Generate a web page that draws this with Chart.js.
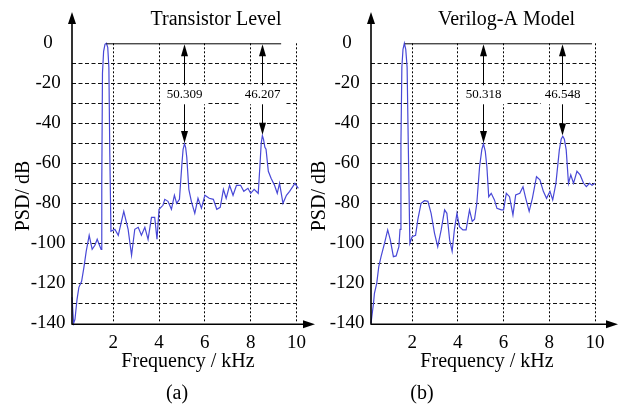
<!DOCTYPE html>
<html>
<head>
<meta charset="utf-8">
<script src="https://cdn.jsdelivr.net/npm/chart.js@4.4.0/dist/chart.umd.min.js"></script>
<style>
  body { margin: 0; background: #fff; }
  #wrap { position: relative; width: 620px; height: 404px; overflow: hidden; }
  canvas { position: absolute; top: 0; }
</style>
</head>
<body>
<div id="wrap">
  <canvas id="chartA" width="320" height="404" style="left:0px"></canvas>
  <canvas id="chartB" width="310" height="404" style="left:310px"></canvas>
</div>
<script>
/*
    Data (frequency in kHz, PSD in dB).
*/
const xTicks = [2, 4, 6, 8, 10];
const yTicks = [-140, -130, -120, -110, -100, -90, -80, -70, -60, -50, -40, -30, -20, -10, 0];

// (a) Transistor Level
const freqA = [0.2, 0.27, 0.33, 0.42, 0.5, 0.62, 0.72, 0.82, 0.95, 1.08, 1.2, 1.3, 1.4, 1.47,
    1.5, 1.53, 1.58, 1.64, 1.7, 1.76, 1.81, 1.85, 1.9,
    2.07, 2.22, 2.46, 2.65, 2.8, 2.94, 3.09, 3.23, 3.38, 3.52, 3.67, 3.81, 3.91, 4.0,
    4.17, 4.25, 4.39, 4.54, 4.67, 4.77, 4.89, 5.0, 5.05, 5.11, 5.16, 5.21, 5.3, 5.41,
    5.56, 5.7, 5.85, 6.0, 6.19, 6.37, 6.52, 6.67, 6.81, 6.93, 7.08, 7.23, 7.38, 7.56,
    7.7, 7.88, 8.0, 8.15, 8.33, 8.41, 8.46, 8.51, 8.56, 8.62, 8.67, 8.77, 8.89, 9.04,
    9.16, 9.26, 9.41, 9.56, 9.7, 9.93, 10.08];
const psdA = [-127, -140, -138, -128, -122, -119, -112, -104, -96, -103, -101, -98, -101, -103,
    -70, -15, -4, -0.5, 0, -2, -12, -55, -94,
    -93, -96, -84, -93, -106, -93, -92, -96, -92, -98, -87, -87, -98, -83,
    -81, -78, -79, -83, -76, -80, -78, -60, -53, -50.3, -52, -57, -73, -79,
    -85, -77.5, -82.5, -76, -77.5, -78, -83, -82, -73, -77.5, -71, -76, -71, -71,
    -74, -72.5, -75, -73, -75, -60, -50, -46.2, -48, -52, -53, -64, -67.5, -71,
    -75, -70, -80, -76, -74, -70, -72.5];
const peakFreqA = [5.11, 8.51];
const peakPsdA = [-50.309, -46.207];
const peakLabelA = ['50.309', '46.207'];

// (b) Verilog-A Model
const freqB = [0.2, 0.31, 0.35, 0.45, 0.54, 0.64, 0.79, 0.93, 1.04, 1.18, 1.3, 1.42, 1.47,
    1.51, 1.55, 1.6, 1.66, 1.72, 1.78, 1.83, 1.9,
    2.0, 2.15, 2.25, 2.39, 2.54, 2.69, 2.83, 2.98, 3.12, 3.27, 3.42, 3.52, 3.64, 3.75,
    3.85, 3.96, 4.07, 4.22, 4.36, 4.51, 4.63, 4.73, 4.83, 4.95, 5.05, 5.12, 5.2, 5.27,
    5.35, 5.46, 5.6, 5.71, 5.9, 6.0, 6.12, 6.26, 6.41, 6.53, 6.71, 6.85, 6.97, 7.12,
    7.26, 7.44, 7.59, 7.74, 7.88, 8.03, 8.15, 8.29, 8.44, 8.52, 8.59, 8.66, 8.74, 8.84,
    8.94, 9.06, 9.21, 9.35, 9.5, 9.62, 9.76, 9.87, 10.0, 10.2];
const psdB = [-140, -130, -125, -120, -111.7, -106.7, -100, -93.3, -98, -106.7, -106.3, -101.7, -93,
    -50, -12, -3, 0, -3, -12, -50, -100,
    -96.7, -96, -88, -80, -78.7, -79, -85, -95, -101.7, -93.3, -83.3, -85, -98.3, -104,
    -93, -85, -91.7, -93.3, -93.3, -83.3, -89, -88, -80, -61.7, -53, -50.3, -54, -61.7,
    -76.7, -75, -78.3, -82.5, -83.3, -83.3, -75, -76.7, -85.8, -75.8, -75, -71.7, -77.5, -84,
    -77.5, -66.7, -68.3, -74, -77.5, -74, -78.3, -70, -53.3, -48, -46.5, -48, -53.3, -70,
    -65.8, -70, -64, -65.8, -70, -71.7, -70, -71, -70, -70.3];
const peakFreqB = [5.12, 8.57];
const peakPsdB = [-50.318, -46.548];
const peakLabelB = ['50.318', '46.548'];

const SERIF = "'Liberation Serif', 'Times New Roman', serif";

/*
    Draw a small filled arrow head with its tip at (x, y).
*/
function arrowHead(ctx, x, y, dir, len, half) {
    ctx.beginPath();
    ctx.moveTo(x, y);
    if (dir === 'up') {
        ctx.lineTo(x - half, y + len);
        ctx.lineTo(x + half, y + len);
    } else if (dir === 'down') {
        ctx.lineTo(x - half, y - len);
        ctx.lineTo(x + half, y - len);
    } else {
        ctx.lineTo(x - len, y - half);
        ctx.lineTo(x - len, y + half);
    }
    ctx.closePath();
    ctx.fill();
}

/*
    Plugin that draws the axes with arrows, the 0 dB reference line, the peak
    distance arrows and all the free text of one panel.
*/
function decorPlugin(cfg) {
    return {
        id: 'decor',
        afterDraw(chart) {
            const ctx = chart.ctx;
            const xs = chart.scales.x;
            const ys = chart.scales.y;
            const area = chart.chartArea;
            const y0 = ys.getPixelForValue(0);
            ctx.save();
            ctx.fillStyle = '#000';
            ctx.strokeStyle = '#000';

            // 0 dB reference line
            ctx.lineWidth = 1;
            ctx.beginPath();
            ctx.moveTo(xs.getPixelForValue(cfg.refStart), y0 + 0.5);
            ctx.lineTo(xs.getPixelForValue(cfg.refEnd), y0 + 0.5);
            ctx.stroke();

            // peak arrows with labels
            ctx.font = '13px ' + SERIF;
            ctx.textAlign = 'center';
            ctx.textBaseline = 'middle';
            const yLab = ys.getPixelForValue(-25.5);
            for (let i = 0; i < cfg.peakFreq.length; i++) {
                const px = Math.round(xs.getPixelForValue(cfg.peakFreq[i])) + 0.5;
                const py = ys.getPixelForValue(cfg.peakPsd[i]) - 1;
                const w = ctx.measureText(cfg.peakLabel[i]).width + 8;
                ctx.fillStyle = '#fff';
                ctx.fillRect(px - w / 2, yLab - 10, w, 20);
                ctx.fillStyle = '#000';
                ctx.beginPath();
                ctx.moveTo(px, y0 + 10);
                ctx.lineTo(px, yLab - 9);
                ctx.moveTo(px, yLab + 10);
                ctx.lineTo(px, py - 10);
                ctx.stroke();
                arrowHead(ctx, px, y0 + 1, 'up', 12, 3.5);
                arrowHead(ctx, px, py, 'down', 12, 3.5);
                ctx.fillText(cfg.peakLabel[i], px, yLab);
            }

            // axes with arrows
            ctx.lineWidth = 1.6;
            ctx.beginPath();
            ctx.moveTo(area.left, area.bottom + 1.5);
            ctx.lineTo(area.left, 20);
            ctx.moveTo(area.left, area.bottom + 1);
            ctx.lineTo(cfg.xArrowTip - 8, area.bottom + 1);
            ctx.stroke();
            arrowHead(ctx, area.left, 12, 'up', 12, 4);
            arrowHead(ctx, cfg.xArrowTip, area.bottom + 1, 'right', 12, 4);

            // texts
            ctx.textBaseline = 'alphabetic';
            ctx.font = '20px ' + SERIF;
            ctx.fillText(cfg.title, cfg.titleX, 25);
            ctx.fillText('Frequency / kHz', cfg.xLabelX, 367);
            ctx.fillText(cfg.sub, cfg.subX, 399);
            ctx.save();
            ctx.translate(cfg.yLabelX, 196);
            ctx.rotate(-Math.PI / 2);
            ctx.textBaseline = 'middle';
            ctx.fillText('PSD/ dB', 0, 0);
            ctx.restore();
            ctx.restore();
        }
    };
}

/*
    Common method that builds one PSD panel.
*/
function displayPanel(canvasId, freq, psd, yAxisWidth, padRight, cfg) {
    const points = freq.map((f, i) => ({ x: f, y: psd[i] }));
    const ctx = document.getElementById(canvasId).getContext('2d');
    return new Chart(ctx, {
        type: 'line',
        data: {
            datasets: [{
                data: points,
                borderColor: 'rgb(72, 72, 215)',
                borderWidth: 1.2,
                pointRadius: 0,
                fill: false,
                tension: 0,
                clip: false
            }]
        },
        options: {
            responsive: false,
            animation: false,
            layout: { padding: { left: 0, top: 43.3, right: padRight, bottom: 0 } },
            plugins: { legend: { display: false }, tooltip: { enabled: false } },
            scales: {
                x: {
                    type: 'linear',
                    min: 0.2,
                    max: 10,
                    afterBuildTicks: (axis) => { axis.ticks = xTicks.map(v => ({ value: v })); },
                    afterFit: (scale) => { scale.height = 404 - 323.3; },
                    ticks: {
                        color: '#000',
                        font: { family: SERIF, size: 19 },
                        padding: 8,
                        maxRotation: 0,
                        autoSkip: false
                    },
                    grid: { color: '#000', lineWidth: 1, drawTicks: false },
                    border: { display: false, dash: [2, 2] }
                },
                y: {
                    min: -140,
                    max: 0,
                    afterBuildTicks: (axis) => { axis.ticks = yTicks.map(v => ({ value: v })); },
                    afterFit: (scale) => { scale.width = yAxisWidth; },
                    ticks: {
                        color: '#000',
                        font: { family: SERIF, size: 19 },
                        padding: 6.5,
                        crossAlign: 'center',
                        autoSkip: false,
                        callback: (v) => (v % 20 === 0 ? String(v) : '')
                    },
                    grid: {
                        lineWidth: 1,
                        drawTicks: false,
                        color: (c) => (c.tick && (c.tick.value === 0 || c.tick.value === -140) ? 'rgba(0,0,0,0)' : '#111')
                    },
                    border: { display: false, dash: [4, 2.5] }
                }
            }
        },
        plugins: [decorPlugin(cfg)]
    });
}

displayPanel('chartA', freqA, psdA, 72, 23.5, {
    title: 'Transistor Level', titleX: 216,
    xLabelX: 188, sub: '(a)', subX: 177, yLabelX: 24, xArrowTip: 315,
    refStart: 1.7, refEnd: 9.33,
    peakFreq: peakFreqA, peakPsd: peakPsdA, peakLabel: peakLabelA
});

displayPanel('chartB', freqB, psdB, 61, 25, {
    title: 'Verilog-A Model', titleX: 196.5,
    xLabelX: 177, sub: '(b)', subX: 112, yLabelX: 10, xArrowTip: 308,
    refStart: 1.68, refEnd: 9.87,
    peakFreq: peakFreqB, peakPsd: peakPsdB, peakLabel: peakLabelB
});
</script>
</body>
</html>
